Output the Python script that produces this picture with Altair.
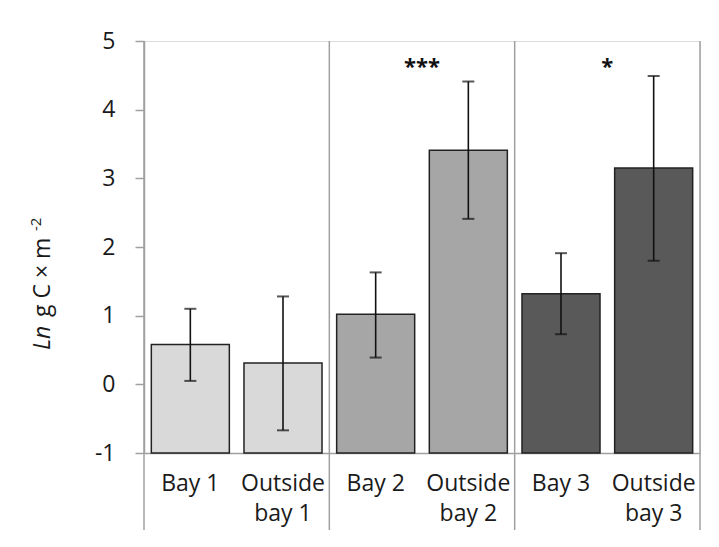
import altair as alt
import pandas as pd

categories = ["Bay 1", "Outside\nbay 1", "Bay 2", "Outside\nbay 2", "Bay 3", "Outside\nbay 3"]
means = [0.58, 0.31, 1.02, 3.41, 1.32, 3.15]
lower = [0.05, -0.67, 0.39, 2.41, 0.73, 1.80]
upper = [1.10, 1.28, 1.63, 4.41, 1.91, 4.49]
groups = ["g1", "g1", "g2", "g2", "g3", "g3"]
group_colors = ["#d9d9d9", "#a6a6a6", "#595959"]

sig_cats = ["Outside\nbay 2", "Outside\nbay 3"]
sig_labels = ["***", "*"]
sig_y = [4.62, 4.62]

sep_start = ["Bay 1", "Bay 2", "Bay 3"]
sep_end = ["Outside\nbay 3"]

FONT = "Open Sans"
AX = "#a0a0a0"

df = pd.DataFrame({"cat": categories, "mean": means, "lo": lower, "hi": upper, "grp": groups})
sig = pd.DataFrame({"cat": sig_cats, "lab": sig_labels, "y": sig_y})
sep1 = pd.DataFrame({"cat": sep_start})
sep2 = pd.DataFrame({"cat": sep_end})

xscale = alt.Scale(domain=categories, paddingInner=0, paddingOuter=0)
yscale = alt.Scale(domain=[-1, 5], nice=False)

xenc = alt.X("cat:N", scale=xscale, sort=categories,
             axis=alt.Axis(title=None, labelAngle=0, ticks=False, domainColor=AX, domainWidth=1.5,
                           labelFontSize=23, labelColor="#1a1a1a", labelPadding=30,
                           labelAlign="center", labelBaseline="middle",
                           labelLineHeight=30, labelExpr="split(datum.label, '\\n')",
                           labelFont=FONT))
yenc = alt.Y("mean:Q", scale=yscale,
             axis=alt.Axis(title=None, values=[-1, 0, 1, 2, 3, 4, 5], labelExpr="'' + datum.value",
                           grid=False, domainColor=AX, domainWidth=1.5, tickColor=AX, tickSize=9,
                           tickWidth=1.5, labelFontSize=23, labelColor="#1a1a1a", labelPadding=20,
                           labelFont=FONT))

bars = alt.Chart(df).mark_bar(width=alt.RelativeBandSize(0.842), stroke="#222222", strokeWidth=1.5).encode(
    x=xenc,
    y=yenc,
    y2=alt.datum(-1),
    color=alt.Color("grp:N", scale=alt.Scale(domain=["g1", "g2", "g3"], range=group_colors), legend=None),
)

err = alt.Chart(df).mark_rule(color="#111111", strokeWidth=1.6).encode(
    x=alt.X("cat:N", scale=xscale, sort=categories),
    y=alt.Y("lo:Q", scale=yscale),
    y2="hi:Q",
)
cap_lo = alt.Chart(df).mark_tick(color="#111111", orient="horizontal", size=12, thickness=2).encode(
    x=alt.X("cat:N", scale=xscale, sort=categories),
    y=alt.Y("lo:Q", scale=yscale),
)
cap_hi = alt.Chart(df).mark_tick(color="#111111", orient="horizontal", size=12, thickness=2).encode(
    x=alt.X("cat:N", scale=xscale, sort=categories),
    y=alt.Y("hi:Q", scale=yscale),
)

seps1 = alt.Chart(sep1).mark_rule(color=AX, strokeWidth=1.5).encode(
    x=alt.X("cat:N", scale=xscale, sort=categories, bandPosition=0),
    y=alt.datum(5),
    y2=alt.value(489),
)
seps2 = alt.Chart(sep2).mark_rule(color=AX, strokeWidth=1.5).encode(
    x=alt.X("cat:N", scale=xscale, sort=categories, bandPosition=1),
    y=alt.datum(5),
    y2=alt.value(489),
)

stars = alt.Chart(sig).mark_text(fontSize=22, font=FONT, fontWeight="bold", color="#111111",
                                 baseline="middle", align="center").encode(
    x=alt.X("cat:N", scale=xscale, sort=categories, bandPosition=0),
    y=alt.Y("y:Q", scale=yscale),
    text="lab:N",
)

title_df = pd.DataFrame({"t": [0]})
t_ln = alt.Chart(title_df).mark_text(text="Ln", angle=270, align="left", baseline="middle",
                                     fontSize=23, font=FONT, fontStyle="italic", color="#1a1a1a").encode(
    x=alt.value(-101), y=alt.value(309))
t_mid = alt.Chart(title_df).mark_text(text="g C × m", angle=270, align="left", baseline="middle",
                                      fontSize=23, font=FONT, color="#1a1a1a").encode(
    x=alt.value(-101), y=alt.value(276))
t_sup = alt.Chart(title_df).mark_text(text="-2", angle=270, align="left", baseline="middle",
                                      fontSize=15, font=FONT, color="#1a1a1a").encode(
    x=alt.value(-108), y=alt.value(190))

chart = alt.layer(seps1, seps2, bars, err, cap_lo, cap_hi, stars, t_ln, t_mid, t_sup).properties(
    width=556, height=412,
    autosize=alt.AutoSizeParams(type="none"),
    padding={"left": 144, "top": 41, "right": 19, "bottom": 94},
    background="white",
).configure_view(stroke=None).configure(font=FONT)

chart.save("out.html", embed_options={"renderer": "svg", "actions": False})
